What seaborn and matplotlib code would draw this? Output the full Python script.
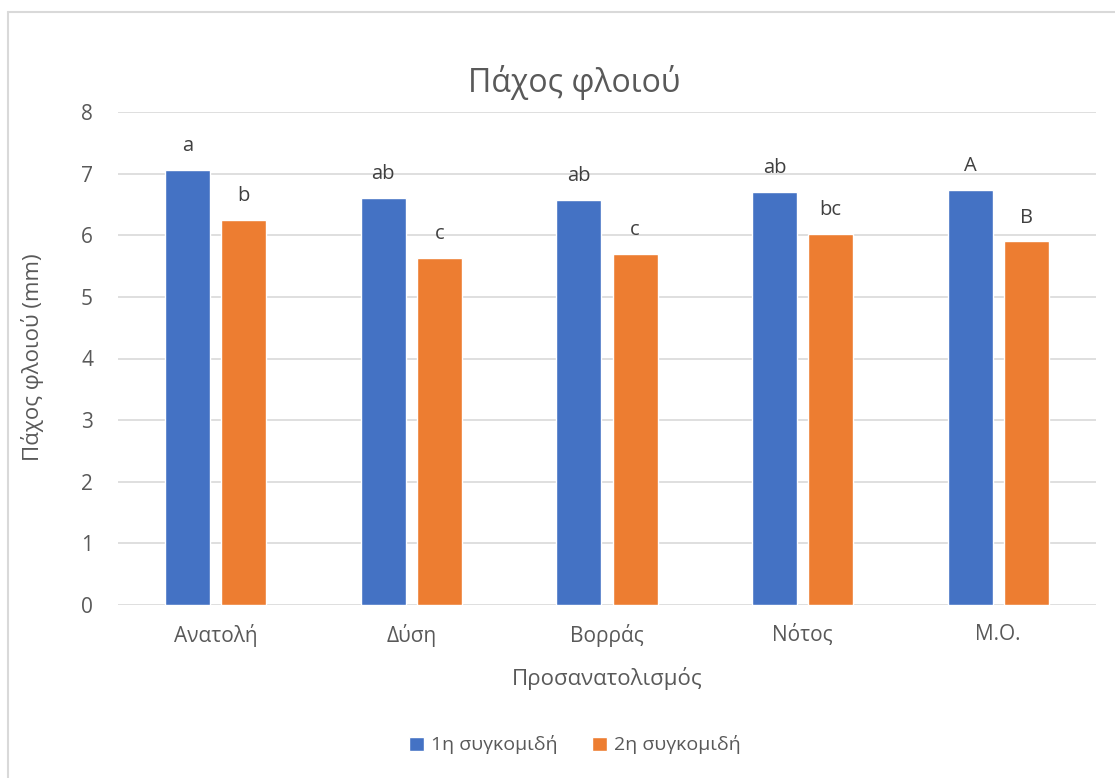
import matplotlib
matplotlib.use("Agg")
import matplotlib.pyplot as plt
from matplotlib.lines import Line2D
import seaborn as sns
import pandas as pd

categories = ["Ανατολή", "Δύση", "Βορράς", "Νότος", "Μ.Ο."]
series_names = ["1η συγκομιδή", "2η συγκομιδή"]
harvest1 = [7.06, 6.60, 6.58, 6.70, 6.74]
harvest2 = [6.25, 5.63, 5.70, 6.02, 5.90]
letters1 = ["a", "ab", "ab", "ab", "A"]
letters2 = ["b", "c", "c", "bc", "B"]

df = pd.DataFrame({
    "Προσανατολισμός": categories * 2,
    "value": harvest1 + harvest2,
    "series": [series_names[0]] * len(categories) + [series_names[1]] * len(categories),
})

sns.set_theme(style="white")
plt.rcParams["font.family"] = ["Open Sans", "DejaVu Sans"]

text_color = "#595959"
grid_color = "#d9d9d9"
palette = {series_names[0]: "#4472C4", series_names[1]: "#ED7D31"}

W, H = 1115, 778
fig = plt.figure(figsize=(W / 100, H / 100), dpi=100)
ax = fig.add_axes([118 / W, 1 - 605 / H, (1096 - 118) / W, (605 - 112) / H])

sns.barplot(data=df, x="Προσανατολισμός", y="value", hue="series",
            palette=palette, width=0.575, gap=0.2, ax=ax,
            saturation=1, errorbar=None, legend=True)

for container, labels in zip(ax.containers, [letters1, letters2]):
    ax.bar_label(container, labels=labels, padding=10, fontsize=14.5, color="#404040")

ax.set_ylim(0, 8)
ax.set_xlim(-0.5, 4.5)
ax.set_yticks(range(0, 9))
ax.yaxis.grid(True, color=grid_color, linewidth=1.2)
ax.set_axisbelow(True)
for s in ax.spines.values():
    s.set_visible(False)
ax.tick_params(axis="both", length=0, labelsize=15, colors=text_color)
ax.tick_params(axis="x", pad=14)
ax.tick_params(axis="y", pad=18)

ax.set_xlabel("Προσανατολισμός", fontsize=16, color=text_color, va="center")
ax.xaxis.set_label_coords((607 - 118) / 978, (605 - 678) / 493)
ax.set_ylabel("Πάχος φλοιού (mm)", fontsize=16, color=text_color, va="center")
ax.yaxis.set_label_coords((33 - 118) / 978, (605 - 357) / 493)
fig.text(574 / W, 1 - 83 / H, "Πάχος φλοιού", fontsize=23, color=text_color,
         ha="center", va="center")

handles, labels = ax.get_legend_handles_labels()
ax.legend(handles, labels, loc="center", bbox_to_anchor=(575 / W, 1 - 745 / H),
          bbox_transform=fig.transFigure, ncol=2, frameon=False, fontsize=14,
          labelcolor=text_color, handlelength=0.75, handleheight=0.75,
          handletextpad=0.35, columnspacing=1.8)

# chart area border
border = "#d9d9d9"
fig.add_artist(Line2D([8 / W, 8 / W], [0, 1 - 12 / H], transform=fig.transFigure,
                      color=border, linewidth=1.5))
fig.add_artist(Line2D([8 / W, 1], [1 - 12 / H, 1 - 12 / H], transform=fig.transFigure,
                      color=border, linewidth=1.5))

fig.savefig("out.png", dpi=100, facecolor="white")
